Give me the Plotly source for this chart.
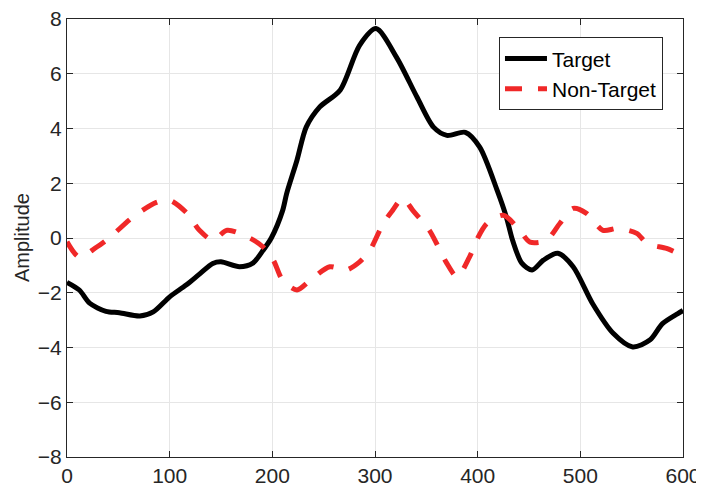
import plotly.graph_objects as go

target_x = [0, 12, 22, 38, 51, 71, 84, 100, 116, 129, 142, 150, 168, 181, 191, 199, 210, 214, 224, 233, 246, 266, 285, 301, 321, 341, 357, 370, 388, 402, 419, 428, 434, 443, 453, 464, 478, 493, 512, 532, 551, 568, 580, 595, 600]
target_y = [-1.62, -1.9, -2.38, -2.68, -2.73, -2.85, -2.7, -2.15, -1.72, -1.32, -0.93, -0.87, -1.05, -0.92, -0.45, 0.0, 1.0, 1.63, 2.84, 4.05, 4.78, 5.4, 7.04, 7.65, 6.6, 5.14, 4.05, 3.75, 3.86, 3.32, 1.74, 0.76, -0.08, -0.92, -1.17, -0.81, -0.56, -1.05, -2.4, -3.48, -3.98, -3.72, -3.13, -2.76, -2.65]

nontarget_x = [0, 12, 29, 42, 64, 87, 100, 117, 129, 142, 156, 178, 191, 201, 210, 224, 237, 256, 272, 285, 295, 308, 317, 327, 337, 353, 360, 370, 380, 392, 399, 409, 425, 441, 451, 467, 480, 493, 506, 522, 536, 555, 565, 584, 595, 600]
nontarget_y = [-0.14, -0.7, -0.33, 0.03, 0.76, 1.3, 1.38, 0.9, 0.28, -0.08, 0.28, 0.0, -0.33, -0.81, -1.54, -1.9, -1.54, -1.05, -1.17, -0.87, -0.45, 0.53, 1.0, 1.45, 1.0, 0.28, -0.2, -0.93, -1.42, -0.7, -0.08, 0.53, 0.83, 0.28, -0.15, -0.08, 0.53, 1.08, 0.9, 0.28, 0.35, 0.17, -0.2, -0.38, -0.56, -0.62]

x_ticks = [0, 100, 200, 300, 400, 500, 600]
y_ticks = [-8, -6, -4, -2, 0, 2, 4, 6, 8]

FONT = "Liberation Sans, Arial, Helvetica, sans-serif"

fig = go.Figure()
fig.add_trace(go.Scatter(x=target_x, y=target_y, mode="lines", name="Target",
                         line=dict(color="black", width=5, shape="spline", smoothing=0.8)))
fig.add_trace(go.Scatter(x=nontarget_x, y=nontarget_y, mode="lines", name="Non-Target",
                         line=dict(color="#f02828", width=5, shape="spline", smoothing=0.8, dash="17px,16px")))

axis_common = dict(showline=True, linecolor="#262626", linewidth=1, mirror="ticks",
                   ticks="inside", ticklen=6, tickcolor="#262626", automargin=False,
                   ticklabeloverflow="allow",
                   showgrid=True, gridcolor="#e6e6e6", gridwidth=1, zeroline=False,
                   tickfont=dict(family=FONT, size=21, color="#262626"))

fig.update_xaxes(range=[0, 600], tickvals=x_ticks, **axis_common)
fig.update_yaxes(range=[-8, 8], tickvals=y_ticks, **axis_common)

# page body has an 8px margin; figure coordinates are offset accordingly
fig.add_annotation(text="Amplitude", xref="paper", yref="paper", x=(14 - 59) / 616, y=0.5,
                   xanchor="center", yanchor="middle", textangle=-90, showarrow=False,
                   font=dict(family=FONT, size=20, color="#262626"))

fig.update_layout(width=696, height=480, margin=dict(l=59, r=21, t=11, b=31),
                  paper_bgcolor="white", plot_bgcolor="white",
                  legend=dict(x=0.9675, xanchor="right", y=0.958, yanchor="top",
                              bgcolor="white", bordercolor="#262626", borderwidth=1,
                              itemwidth=42,
                              font=dict(family=FONT, size=21, color="black"),
                              tracegroupgap=0))
fig.write_html("out.html")
